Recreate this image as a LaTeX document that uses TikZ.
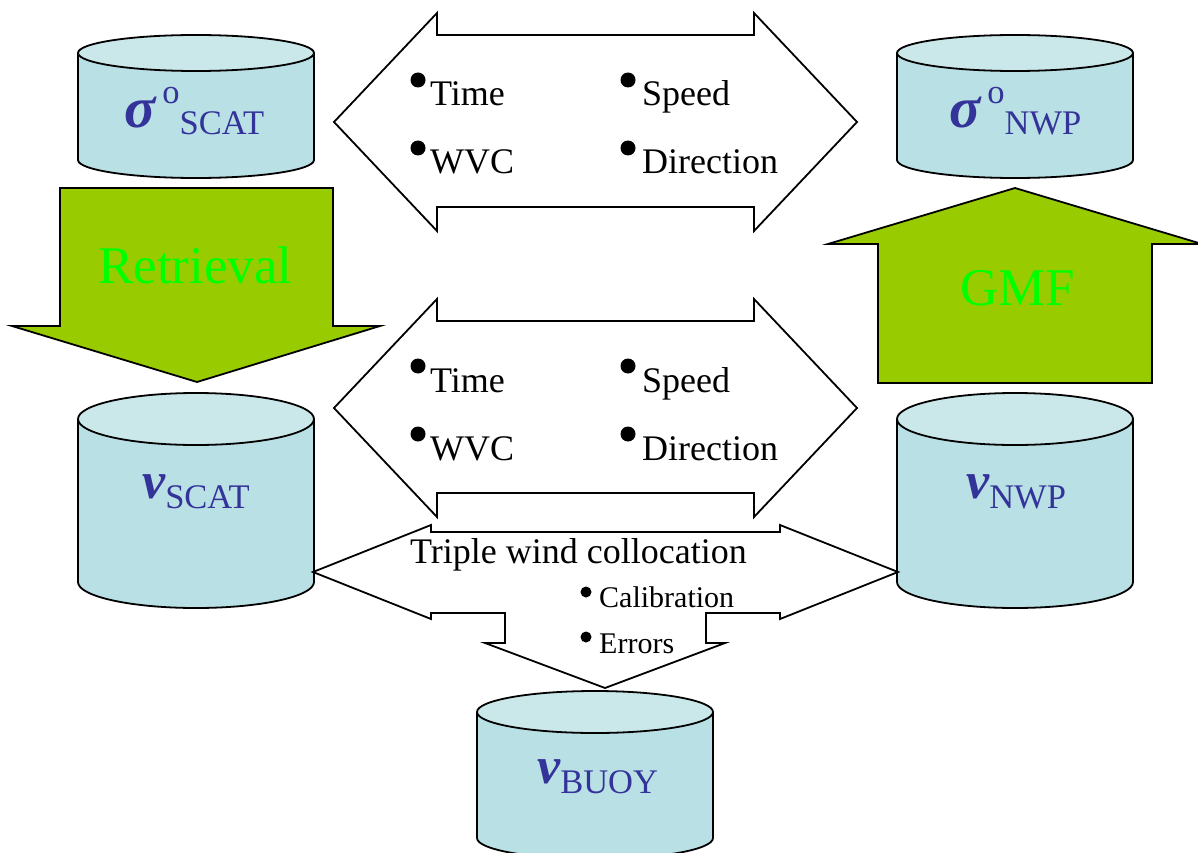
\documentclass[tikz,border=0pt]{standalone}
\usepackage{fontspec}
\setmainfont{Liberation Serif}

\definecolor{drumside}{HTML}{B9E0E4}
\definecolor{drumtop}{HTML}{CAE7EA}
\definecolor{labelblue}{HTML}{333399}
\definecolor{arrowgreen}{HTML}{99CC00}
\definecolor{textgreen}{HTML}{00FF00}

\tikzset{
  outline/.style={draw=black, line width=1.8pt},
  drumlabel/.style={anchor=base west, inner sep=0pt, text=labelblue, font=\fontsize{34.5}{36}\selectfont},
  item/.style={anchor=base west, inner sep=0pt, font=\fontsize{36}{40}\selectfont},
  smallitem/.style={anchor=base west, inner sep=0pt, font=\fontsize{30}{32}\selectfont},
  greentext/.style={anchor=base west, inner sep=0pt, text=textgreen, font=\fontsize{53}{56}\selectfont}
}
\newcommand{\bigsym}[2][52]{{\fontsize{#1}{#1}\selectfont\bfseries\itshape #2}}

\begin{document}
\begin{tikzpicture}[x=1pt, y=-1pt]
            \useasboundingbox (0,0) rectangle (1198,853);

            %Cylinders
            \foreach \cx/\rx/\t/\b/\ry in {196/118/53/160/18, 1015/118/53/160/18,
                196/118/419/582/26, 1015/118/419/582/26, 595/118/712/838/21} {
              \fill[drumside] (\cx-\rx,\t) -- (\cx-\rx,\b)
                arc[start angle=180, end angle=0, x radius=\rx, y radius=\ry]
                -- (\cx+\rx,\t)
                arc[start angle=0, end angle=-180, x radius=\rx, y radius=\ry] -- cycle;
              \draw[outline] (\cx-\rx,\t) -- (\cx-\rx,\b)
                arc[start angle=180, end angle=0, x radius=\rx, y radius=\ry] -- (\cx+\rx,\t);
              \filldraw[outline, fill=drumtop] (\cx,\t) ellipse[x radius=\rx, y radius=\ry];
            }

            %Double arrows
            \foreach \dy in {0,286} {
              \filldraw[outline, fill=white, shift={(0,\dy)}] (334,122) -- (437,13) -- (437,35)
                -- (754,35) -- (754,13) -- (857,122) -- (754,231) -- (754,207)
                -- (437,207) -- (437,231) -- cycle;
            }

            %Triple arrow
            \filldraw[outline, fill=white] (313,572) -- (431,525) -- (431,532) -- (780,532)
              -- (780,525) -- (898,572) -- (780,619) -- (780,613) -- (706,613) -- (706,643)
              -- (725,643) -- (605,688) -- (485,643) -- (505,643) -- (505,613) -- (431,613)
              -- (431,619) -- cycle;

            %Green arrows
            \filldraw[outline, fill=arrowgreen] (60,188) -- (333,188) -- (333,326) -- (380,326)
              -- (197,382) -- (12,326) -- (60,326) -- cycle;
            \filldraw[outline, fill=arrowgreen] (878,383) -- (878,244) -- (828,244) -- (1015,188)
              -- (1202,244) -- (1152,244) -- (1152,383) -- cycle;

            %Labels
            \node[drumlabel] (sscat) at (124,128) {\bigsym[58]{σ}\hspace{7pt}\raisebox{24pt}{o}\raisebox{-7pt}{SCAT}};
            \node[drumlabel] (snwp)  at (949,128) {\bigsym[58]{σ}\hspace{7pt}\raisebox{24pt}{o}\raisebox{-7pt}{NWP}};
            \node[drumlabel] (vscat) at (142,498) {\bigsym{v}\raisebox{-10pt}{SCAT}};
            \node[drumlabel] (vnwp)  at (966,498) {\bigsym{v}\raisebox{-10pt}{NWP}};
            \node[drumlabel] (vbuoy) at (537,783) {\bigsym{v}\raisebox{-10pt}{BUOY}};
            \node[greentext] (retr) at (98,283)  {Retrieval};
            \node[greentext] (gmf)  at (960,305) {GMF};

            %Bullet items
            \foreach \dy [count=\k] in {0,286} {
              \fill (418,80+\dy) circle[radius=7.5];
              \fill (418,148+\dy) circle[radius=7.5];
              \fill (628,80+\dy) circle[radius=7.5];
              \fill (628,148+\dy) circle[radius=7.5];
              \node[item] (time\k) at (430,106+\dy) {Time};
              \node[item] (wvc\k)  at (430,174+\dy) {WVC};
              \node[item] (speed\k) at (642,106+\dy) {Speed};
              \node[item] (dir\k)  at (642,174+\dy) {Direction};
            }
            \node[item] (triple) at (410,563) {Triple wind collocation};
            \fill (586,592) circle[radius=5.5];
            \fill (586,637) circle[radius=5.5];
            \node[smallitem] (calib) at (599,607) {Calibration};
            \node[smallitem] (errs)  at (599,653) {Errors};
\end{tikzpicture}
\end{document}
